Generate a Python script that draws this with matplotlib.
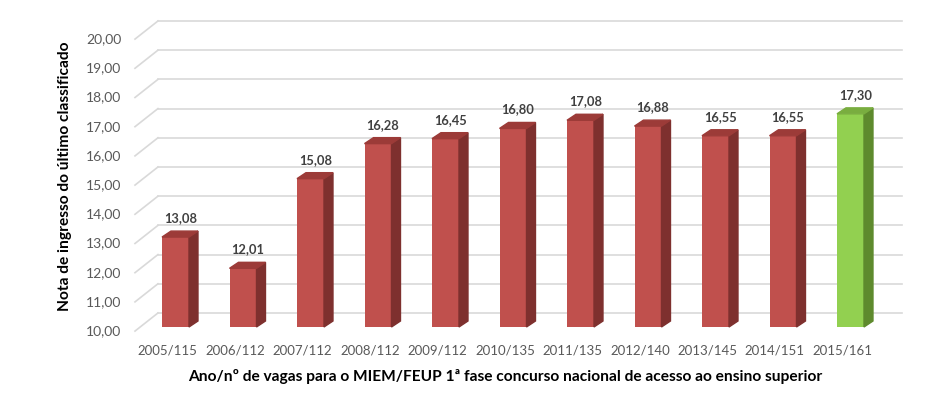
import numpy as np
import matplotlib
matplotlib.use("Agg")
import matplotlib.pyplot as plt
from matplotlib.patches import Polygon

# dados
anos = ['2005/115', '2006/112', '2007/112', '2008/112', '2009/112', '2010/135',
        '2011/135', '2012/140', '2013/145', '2014/151', '2015/161']
notas = [13.08, 12.01, 15.08, 16.28, 16.45, 16.80, 17.08, 16.88, 16.55, 16.55, 17.30]
destaque = [False] * 10 + [True]
escala = np.arange(10, 21, 1)

plt.rcParams['font.family'] = ['Lato', 'DejaVu Sans']

cor_frente = {False: '#C0504D', True: '#92D050'}
cor_lado = {False: '#7E302E', True: '#5E8A2D'}
cor_topo = {False: '#9C3B38', True: '#79AD3F'}

fig = plt.figure(figsize=(9.4, 4.08), dpi=100)
# eixo no plano da frente das barras: 67.5 px por categoria, 29.2 px por unidade
px_cat, px_val = 67.5, 29.2
x0, x1 = -0.6, 10.8
y0, y1 = 10, 20
left = 175.5 + x0 * px_cat
bottom = 408 - 327
ax = fig.add_axes([left / 940, bottom / 408,
                   (x1 - x0) * px_cat / 940, (y1 - y0) * px_val / 408])
ax.set_xlim(x0, x1)
ax.set_ylim(y0, y1)
ax.axis('off')

# parede do fundo
wx, wy = 0.26, 0.48
for v in escala:
    ax.plot([-0.52 + wx, 10.76], [v + wy, v + wy], color='#D9D9D9', lw=1.2,
            clip_on=False, zorder=1)
    ax.plot([x0, -0.52 + wx], [v - 0.14, v + wy], color='#D9D9D9', lw=1.2,
            clip_on=False, zorder=1)
    ax.text(x0 - 0.2, v - 0.14, f'{v:.2f}'.replace('.', ','), ha='right',
            va='center', fontsize=10, color='#595959')

# barras 3D
x = np.arange(len(notas))
w = 0.4
dx, dy = 0.133, 0.205
for xi, v, d in zip(x, notas, destaque):
    ax.bar(xi, v - 10, bottom=10, width=w, color=cor_frente[d], zorder=3,
           clip_on=False)
    r = xi + w / 2
    l = xi - w / 2
    ax.add_patch(Polygon([(r, 10), (r + dx, 10 + dy), (r + dx, v + dy), (r, v)],
                         closed=True, color=cor_lado[d], zorder=3, clip_on=False))
    ax.add_patch(Polygon([(l, v), (l + dx, v + dy), (r + dx, v + dy), (r, v)],
                         closed=True, color=cor_topo[d], zorder=3, clip_on=False))
    ax.text(xi + 0.07, v + 0.65, f'{v:.2f}'.replace('.', ','), ha='center',
            va='center', fontsize=9.3, fontweight='bold', color='#404040')

for xi, a in zip(x, anos):
    ax.text(xi - 0.12, 9.21, a, ha='center', va='center', fontsize=9.5,
            color='#595959')

fig.text(505 / 940, 1 - 377 / 408,
         'Ano/nº de vagas para o MIEM/FEUP 1ª fase concurso nacional de acesso ao ensino superior',
         ha='center', va='center', fontsize=11.2, fontweight='bold', color='black')
fig.text(65 / 940, 1 - 176 / 408, 'Nota de ingresso do último classificado',
         ha='center', va='center', rotation=90, fontsize=11.2, fontweight='bold',
         color='black')

fig.savefig('out.png', dpi=100, facecolor='white')
